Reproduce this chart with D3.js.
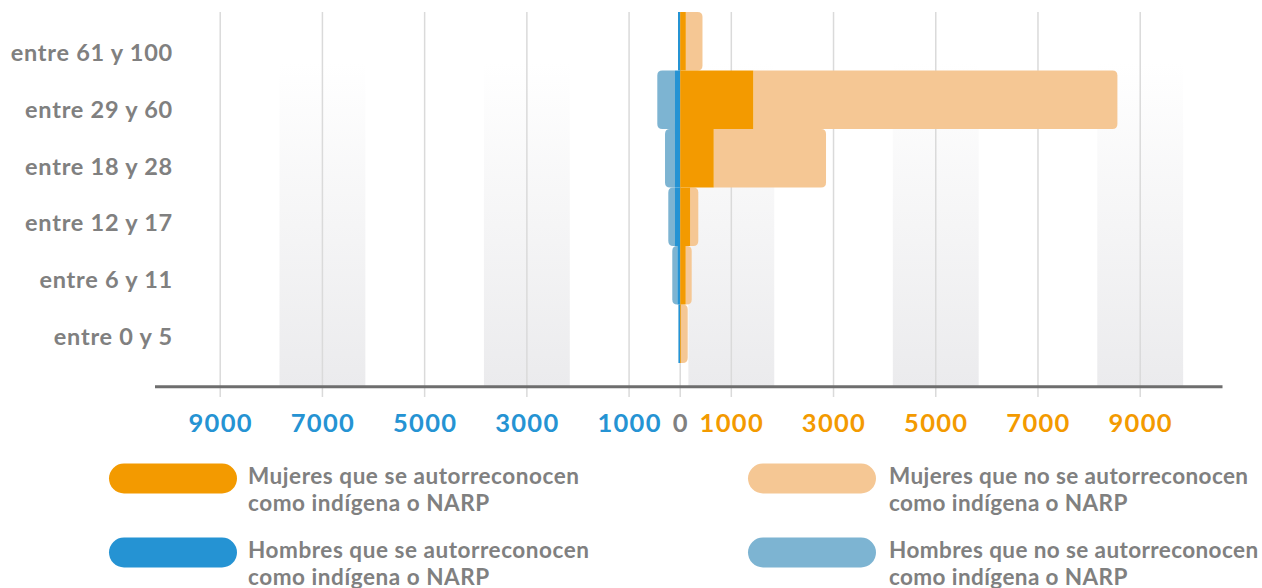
<!DOCTYPE html>
<html>
<head>
<meta charset="utf-8">
<script src="https://cdn.jsdelivr.net/npm/d3@7"></script>
<style>
  html, body { margin: 0; padding: 0; background: #fff; }
  svg { display: block; font-family: Lato, "Open Sans", sans-serif; font-weight: 700; }
</style>
</head>
<body>
<div class="container"></div>
<script>
const WIDTH = 1262
const HEIGHT = 588

// age groups, top to bottom
const ages = ['entre 61 y 100', 'entre 29 y 60', 'entre 18 y 28', 'entre 12 y 17', 'entre 6 y 11', 'entre 0 y 5']

// women (right side)
const mujeresIndigenaNarp = [110, 1430, 656, 194, 108, 16]
const mujeresNoIndigenaNarp = [326, 7124, 2197, 160, 117, 131]

// men (left side)
const hombresIndigenaNarp = [43, 102, 102, 102, 55, 35]
const hombresNoIndigenaNarp = [0, 346, 195, 131, 100, 0]

const tickValues = [-9000, -7000, -5000, -3000, -1000, 0, 1000, 3000, 5000, 7000, 9000]
const bandCenters = [-7000, -3000, 1000, 5000, 9000]

const legendItems = [
    { label: ['Mujeres que se autorreconocen', 'como indígena o NARP'], color: '#f39a00', col: 0, row: 0 },
    { label: ['Mujeres que no se autorreconocen', 'como indígena o NARP'], color: '#f5c794', col: 1, row: 0 },
    { label: ['Hombres que se autorreconocen', 'como indígena o NARP'], color: '#2593d3', col: 0, row: 1 },
    { label: ['Hombres que no se autorreconocen', 'como indígena o NARP'], color: '#7db4d2', col: 1, row: 1 }
]

const COLORS = {
    mujerInd: '#f39a00',
    mujerNo: '#f5c794',
    hombreInd: '#2593d3',
    hombreNo: '#7db4d2',
    text: '#808080',
    grid: '#dadada',
    axis: '#6e6e6e'
}

const rows = ages.map((age, i) => ({
    age,
    mInd: mujeresIndigenaNarp[i],
    mNo: mujeresNoIndigenaNarp[i],
    hInd: hombresIndigenaNarp[i],
    hNo: hombresNoIndigenaNarp[i]
}))

const x = d3.scaleLinear()
    .domain([-9000, 9000])
    .range([220.2, 1140.2])

const y = d3.scaleBand()
    .domain(ages)
    .range([12, 363])
    .padding(0)

// labels sit a little lower than the bars in the original
const yLabel = d3.scalePoint()
    .domain(ages)
    .range([61, 345])

// bar with rounded corners only on the outer end
function outerRoundedBar(x0, x1, y0, h, r) {
    const w = Math.abs(x1 - x0)
    if (w <= 0) return ''
    r = Math.min(r, w, h / 2)
    const s = x1 > x0 ? 1 : -1
    return [
        `M${x0},${y0}`,
        `H${x1 - s * r}`,
        `Q${x1},${y0} ${x1},${y0 + r}`,
        `V${y0 + h - r}`,
        `Q${x1},${y0 + h} ${x1 - s * r},${y0 + h}`,
        `H${x0}`,
        'Z'
    ].join('')
}

const svg = d3.select('.container').append('svg')
    .attr('xmlns', 'http://www.w3.org/2000/svg')
    .attr('viewBox', `0 0 ${WIDTH} ${HEIGHT}`)
    .attr('width', WIDTH)
    .attr('height', HEIGHT)

const defs = svg.append('defs')
const grad = defs.append('linearGradient')
    .attr('id', 'band-grad')
    .attr('x1', 0).attr('y1', 0).attr('x2', 0).attr('y2', 1)
grad.append('stop').attr('offset', '0%').attr('stop-color', '#ffffff')
grad.append('stop').attr('offset', '100%').attr('stop-color', '#ebebed')

// background bands
const bandHalf = 840
svg.append('g')
    .selectAll('rect')
    .data(bandCenters)
    .join('rect')
    .attr('x', d => x(d - bandHalf))
    .attr('width', d => x(d + bandHalf) - x(d - bandHalf))
    .attr('y', 63)
    .attr('height', 386.7 - 63)
    .attr('fill', 'url(#band-grad)')

// grid lines
svg.append('g')
    .selectAll('line')
    .data(tickValues)
    .join('line')
    .attr('x1', d => x(d))
    .attr('x2', d => x(d))
    .attr('y1', 12)
    .attr('y2', 397)
    .attr('stroke', COLORS.grid)
    .attr('stroke-width', 1.5)

// bars
const bars = svg.append('g')
const h = y.bandwidth()

// men, light (stacked after the indigenous part)
bars.selectAll('path.hNo')
    .data(rows)
    .join('path')
    .attr('class', 'hNo')
    .attr('fill', COLORS.hombreNo)
    .attr('d', d => outerRoundedBar(x(-d.hInd), x(-(d.hInd + d.hNo)), y(d.age), h, 5))

bars.selectAll('rect.hInd')
    .data(rows)
    .join('rect')
    .attr('class', 'hInd')
    .attr('fill', COLORS.hombreInd)
    .attr('x', d => x(-d.hInd))
    .attr('width', d => x(0) - x(-d.hInd))
    .attr('y', d => y(d.age))
    .attr('height', h)

// women
bars.selectAll('path.mNo')
    .data(rows)
    .join('path')
    .attr('class', 'mNo')
    .attr('fill', COLORS.mujerNo)
    .attr('d', d => outerRoundedBar(x(d.mInd), x(d.mInd + d.mNo), y(d.age), h, 5))

bars.selectAll('rect.mInd')
    .data(rows)
    .join('rect')
    .attr('class', 'mInd')
    .attr('fill', COLORS.mujerInd)
    .attr('x', x(0))
    .attr('width', d => x(d.mInd) - x(0))
    .attr('y', d => y(d.age))
    .attr('height', h)

// baseline
svg.append('line')
    .attr('x1', 155)
    .attr('x2', 1222.5)
    .attr('y1', 386.7)
    .attr('y2', 386.7)
    .attr('stroke', COLORS.axis)
    .attr('stroke-width', 3)

// x axis labels
const xAxis = svg.append('g')
    .attr('transform', 'translate(0,386.7)')
    .call(d3.axisBottom(x)
        .tickValues(tickValues)
        .tickFormat(d => Math.abs(d))
        .tickSize(0)
        .tickPadding(27.5))
xAxis.select('.domain').remove()
xAxis.selectAll('text')
    .attr('font-family', 'Lato, sans-serif')
    .attr('font-weight', 700)
    .attr('font-size', 25.5)
    .attr('letter-spacing', 1.3)
    .attr('fill', d => d < 0 ? COLORS.hombreInd : d > 0 ? COLORS.mujerInd : COLORS.text)

// y labels
svg.append('g')
    .selectAll('text')
    .data(ages)
    .join('text')
    .attr('x', 173)
    .attr('y', d => yLabel(d))
    .attr('text-anchor', 'end')
    .attr('font-size', 23.5)
    .attr('letter-spacing', 0.75)
    .attr('fill', COLORS.text)
    .text(d => d)

// legend
const legend = svg.append('g')
const item = legend.selectAll('g')
    .data(legendItems)
    .join('g')
    .attr('transform', d => `translate(${d.col ? 748 : 109},${d.row ? 537.5 : 463.5})`)

item.append('rect')
    .attr('width', 128)
    .attr('height', 30)
    .attr('rx', 15)
    .attr('fill', d => d.color)

item.append('text')
    .attr('font-size', 22.5)
    .attr('letter-spacing', d => d.col ? 0.4 : 0.55)
    .attr('fill', COLORS.text)
    .selectAll('tspan')
    .data(d => d.label)
    .join('tspan')
    .attr('x', function () { return this.parentNode.__data__.col ? 141 : 139 })
    .attr('y', (d, i) => 20 + i * 27.5)
    .text(d => d)
</script>
</body>
</html>
